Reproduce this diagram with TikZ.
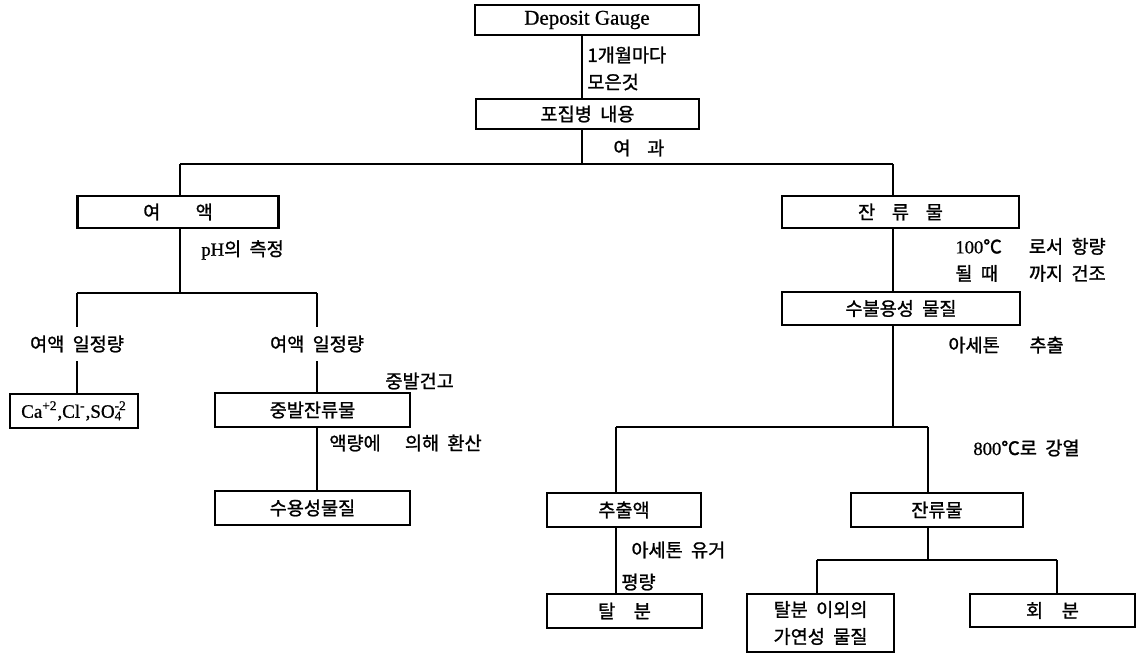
\documentclass[tikz,border=0pt]{standalone}
\usepackage{fontspec}
\setmainfont{Liberation Serif}[FakeBold=0.8]
\newfontfamily\kr[WordSpace=2,FakeBold=1.2]{Noto Sans CJK KR}
\newcommand\ko[1]{{\kr #1}}
\begin{document}
\begin{tikzpicture}
    [
    x=0.5pt,y=-0.5pt,
    line width=1.4pt,
    every node/.style={font=\fontsize{9.3}{13.5}\selectfont},
    box/.style={draw,rectangle,inner sep=0pt},
    note/.style={anchor=west,inner sep=0pt,align=left},
    cut/.style={inner sep=0pt,minimum height=16pt}
    ]
    \useasboundingbox (0,0) rectangle (1140,658);
    % boxes
    \node (gauge) at (587,20) [box,minimum width=112pt,minimum height=15pt] {\fontsize{10.5}{12}\selectfont Deposit Gauge};
    \node (bottle) at (587.5,114) [box,minimum width=111.5pt,minimum height=15pt] {\ko{포집병 내용}};
    \node (filtrate) at (178,212) [box,minimum width=100.5pt,minimum height=16pt] {\ko{여\hspace{1.9em}액}};
    \node (residue) at (900.5,212) [box,minimum width=118.5pt,minimum height=16pt] {\ko{잔\hspace{.9em}류\hspace{.9em}물}};
    \node (ions) at (74,411) [box,minimum width=64pt,minimum height=17pt] {\fontsize{9.5}{12}\selectfont Ca\textsuperscript{+2},Cl\textsuperscript{-},SO\rlap{\textsubscript{4}}\textsuperscript{-2}};
    \node (evap) at (312.5,410) [box,minimum width=97.5pt,minimum height=17pt] {\ko{중발잔류물}};
    \node (soluble) at (312.5,508) [box,minimum width=97.5pt,minimum height=17pt] {\ko{수용성물질}};
    \node (insol) at (901,308.5) [box,minimum width=119pt,minimum height=16.5pt] {\ko{수불용성 물질}};
    \node (extract) at (624,510) [box,minimum width=77pt,minimum height=17pt] {\ko{추출액}};
    \node (tar) at (624.5,611) [box,minimum width=77.5pt,minimum height=17pt] {\ko{탈\hspace{1em}분}};
    \node (ashres) at (937,510) [box,minimum width=86pt,minimum height=17pt] {\ko{잔류물}};
    \node (comb) at (820.5,623) [box,minimum width=73.5pt,minimum height=29pt,align=center] {\ko{탈분 이외의}\\\ko{가연성 물질}};
    \node (ash) at (1052.5,610.5) [box,minimum width=82.5pt,minimum height=16.5pt] {\ko{회\hspace{1em}분}};
    % labels
    \node (monthly) at (586,68.5) [note] {\ko{1개월마다}\\\ko{모은것}};
    \node (filter) at (612,148) [note] {\ko{여\hspace{.9em}과}};
    \node (ph) at (200,250) [note] {pH\ko{의 측정}};
    \node (part1) at (77,344) [cut] {\ko{여액 일정량}};
    \node (part2) at (317,344) [cut] {\ko{여액 일정량}};
    \node (dry) at (384,381) [note] {\ko{중발건고}};
    \node (conv) at (328,443) [note] {\ko{액량에\hspace{1.3em}의해 환산}};
    \node (heat) at (954,261.5) [note] {\begin{tabular}{@{}l@{\hspace{13.5pt}}l@{}}100\ko{℃} & \ko{로서 항량}\\\ko{될 때} & \ko{까지 건조}\end{tabular}};
    \node (acetone) at (947,345) [note] {\ko{아세톤\hspace{1.6em}추출}};
    \node (ignite) at (972,448) [note] {800\ko{℃로 강열}};
    \node (remove) at (630,550) [note] {\ko{아세톤 유거}};
    \node (weigh) at (620,582) [note] {\ko{평량}};
    % joints
    \coordinate (j0) at (582,164);
    \coordinate (jl) at (180,164);
    \coordinate (jr) at (893,164);
    \coordinate (k0) at (180,293);
    \coordinate (kl) at (77,293);
    \coordinate (kr) at (317,293);
    \coordinate (m0) at (893,427);
    \coordinate (ml) at (616,427);
    \coordinate (mr) at (928,427);
    \coordinate (n0) at (928,560);
    \coordinate (nl) at (817,560);
    \coordinate (nr) at (1057,560);
    % lines
    \draw (gauge.south -| j0) to (bottle.north -| j0);
    \draw (bottle.south -| j0) to (j0);
    \draw (jl) to (jr);
    \draw (jl) to (filtrate.north -| jl);
    \draw (jr) to (residue.north -| jr);
    \draw (filtrate.south -| k0) to (k0);
    \draw (kl) to (kr);
    \draw (kl) to (part1.north);
    \draw (part1.south) to (ions.north -| kl);
    \draw (kr) to (part2.north);
    \draw (part2.south) to (evap.north -| kr);
    \draw (evap.south -| kr) to (soluble.north -| kr);
    \draw (residue.south -| jr) to (insol.north -| jr);
    \draw (insol.south -| m0) to (m0);
    \draw (ml) to (mr);
    \draw (ml) to (extract.north -| ml);
    \draw (mr) to (ashres.north -| mr);
    \draw (extract.south -| ml) to (tar.north -| ml);
    \draw (ashres.south -| n0) to (n0);
    \draw (nl) to (nr);
    \draw (nl) to (comb.north -| nl);
    \draw (nr) to (ash.north -| nr);
  \end{tikzpicture}
\end{document}
